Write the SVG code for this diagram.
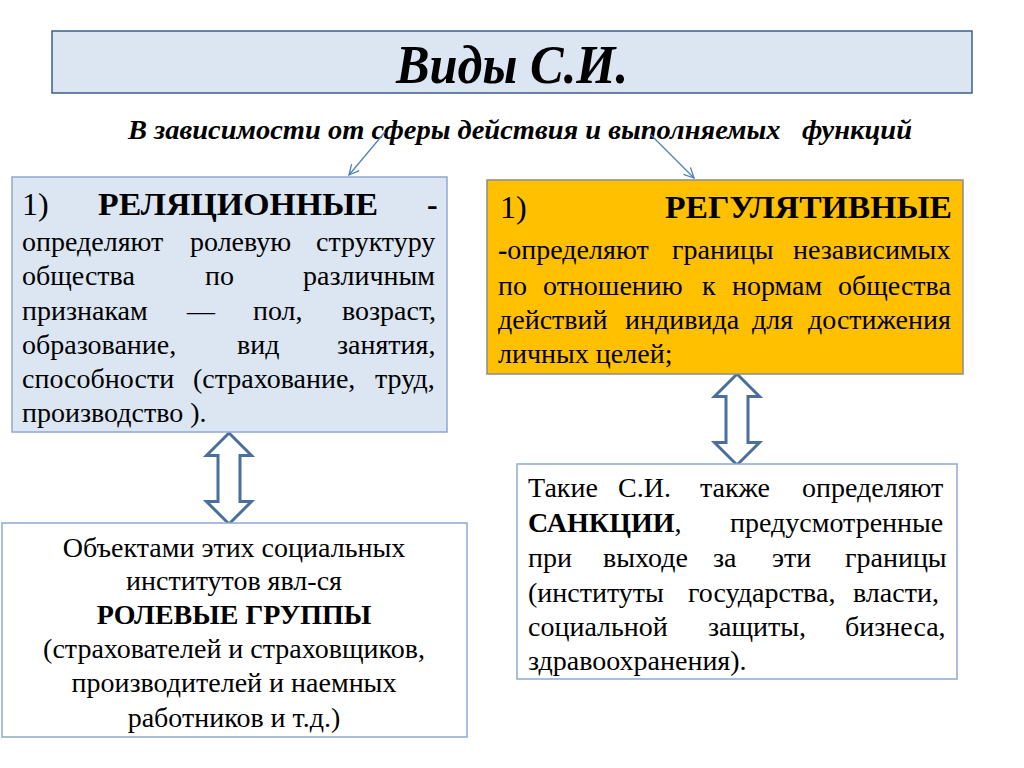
<svg xmlns="http://www.w3.org/2000/svg" width="1024" height="768" viewBox="0 0 1024 768" font-family="Liberation Serif">
<defs>
  <marker id="open" viewBox="0 0 12 12" refX="11" refY="6" markerWidth="12" markerHeight="12" markerUnits="userSpaceOnUse" orient="auto">
    <path d="M1,1 L11,6 L1,11" fill="none" stroke="#4F81BD" stroke-width="1.3"/>
  </marker>
  <path id="dblarrow" d="M0,0 L22.5,22.5 L11,22.5 L11,68.5 L22.5,68.5 L0,91 L-22.5,68.5 L-11,68.5 L-11,22.5 L-22.5,22.5 Z"/>
</defs>
<rect width="1024" height="768" fill="#FFFFFF"/>

<g id="title">
  <rect x="52" y="31" width="920" height="62" fill="#DCE6F2" stroke="#3E5F8A" stroke-width="1.5"/>
  <text x="512" y="83" text-anchor="middle" font-family="Liberation Serif" font-weight="bold" font-style="italic" font-size="54" textLength="232" lengthAdjust="spacingAndGlyphs">Виды С.И.</text>
</g>

<g id="subtitle">
  <text x="128" y="139" font-family="Liberation Serif" font-weight="bold" font-style="italic" font-size="27" textLength="784" lengthAdjust="spacingAndGlyphs">В зависимости от сферы действия и выполняемых&#160;&#160; функций</text>
</g>

<g id="connectors">
  <line x1="385" y1="132" x2="349" y2="175" stroke="#4F81BD" stroke-width="1.3" marker-end="url(#open)"/>
  <line x1="650" y1="134" x2="694" y2="178" stroke="#4F81BD" stroke-width="1.3" marker-end="url(#open)"/>
  <g fill="#FFFFFF" stroke="#4A6F9E" stroke-width="3">
    <use href="#dblarrow" x="229" y="433" transform="translate(0,0)" />
    <use href="#dblarrow" x="737" y="374"/>
  </g>
</g>

<g id="relational" font-family="Liberation Serif" font-size="28" fill="#000000">
  <rect x="12" y="177" width="435" height="255" fill="#DCE6F2" stroke="#8EA9CF" stroke-width="1.5"/>
  <text x="22" y="215" font-size="32">1)</text>
  <text x="98" y="215" font-size="32" font-weight="bold" textLength="280" lengthAdjust="spacingAndGlyphs">РЕЛЯЦИОННЫЕ</text>
  <text x="427" y="215" font-size="32" font-weight="bold">-</text>
  <text y="251"><tspan x="22">определяют</tspan><tspan x="190">ролевую</tspan><tspan x="316">структуру</tspan></text>
  <text y="285"><tspan x="22">общества</tspan><tspan x="205">по</tspan><tspan x="303">различным</tspan></text>
  <text y="320"><tspan x="22">признакам</tspan><tspan x="187">—</tspan><tspan x="253">пол,</tspan><tspan x="342">возраст,</tspan></text>
  <text y="354"><tspan x="22">образование,</tspan><tspan x="237">вид</tspan><tspan x="337">занятия,</tspan></text>
  <text y="388"><tspan x="22">способности</tspan><tspan x="193">(страхование,</tspan><tspan x="375">труд,</tspan></text>
  <text y="422" x="22">производство ).</text>
</g>

<g id="regulative" font-family="Liberation Serif" font-size="28" fill="#000000">
  <rect x="487" y="180" width="476" height="194" fill="#FFC000" stroke="#8C8C8C" stroke-width="1.5"/>
  <text x="500" y="218" font-size="32">1)</text>
  <text x="665" y="218" font-size="32" font-weight="bold" textLength="287" lengthAdjust="spacingAndGlyphs">РЕГУЛЯТИВНЫЕ</text>
  <text y="259"><tspan x="498" font-weight="bold">-</tspan><tspan>определяют</tspan><tspan x="672">границы</tspan><tspan x="793">независимых</tspan></text>
  <text y="295"><tspan x="498">по</tspan><tspan x="543">отношению</tspan><tspan x="702">к</tspan><tspan x="732">нормам</tspan><tspan x="838">общества</tspan></text>
  <text y="329"><tspan x="498">действий</tspan><tspan x="625">индивида</tspan><tspan x="752">для</tspan><tspan x="808">достижения</tspan></text>
  <text y="363" x="498">личных целей;</text>
</g>

<g id="role-groups" font-family="Liberation Serif" font-size="28" fill="#000000" text-anchor="middle">
  <rect x="2" y="523" width="465" height="214" fill="#FFFFFF" stroke="#8EA9CF" stroke-width="1.5"/>
  <text x="234" y="557">Объектами этих социальных</text>
  <text x="234" y="590">институтов явл-ся</text>
  <text x="234" y="624" font-weight="bold">РОЛЕВЫЕ ГРУППЫ</text>
  <text x="234" y="658">(страхователей и страховщиков,</text>
  <text x="234" y="692">производителей и наемных</text>
  <text x="234" y="727">работников и т.д.)</text>
</g>

<g id="sanctions" font-family="Liberation Serif" font-size="28" fill="#000000">
  <rect x="517" y="464" width="440" height="215" fill="#FFFFFF" stroke="#8EA9CF" stroke-width="1.5"/>
  <text y="497"><tspan x="528">Такие</tspan><tspan x="618">С.И.</tspan><tspan x="700">также</tspan><tspan x="802">определяют</tspan></text>
  <text y="532"><tspan x="528" font-weight="bold">САНКЦИИ</tspan><tspan>,</tspan><tspan x="730">предусмотренные</tspan></text>
  <text y="567"><tspan x="528">при</tspan><tspan x="603">выходе</tspan><tspan x="713">за</tspan><tspan x="772">эти</tspan><tspan x="845">границы</tspan></text>
  <text y="602"><tspan x="528">(институты</tspan><tspan x="688">государства,</tspan><tspan x="853">власти,</tspan></text>
  <text y="636"><tspan x="528">социальной</tspan><tspan x="708">защиты,</tspan><tspan x="845">бизнеса,</tspan></text>
  <text y="670" x="528">здравоохранения).</text>
</g>
</svg>
